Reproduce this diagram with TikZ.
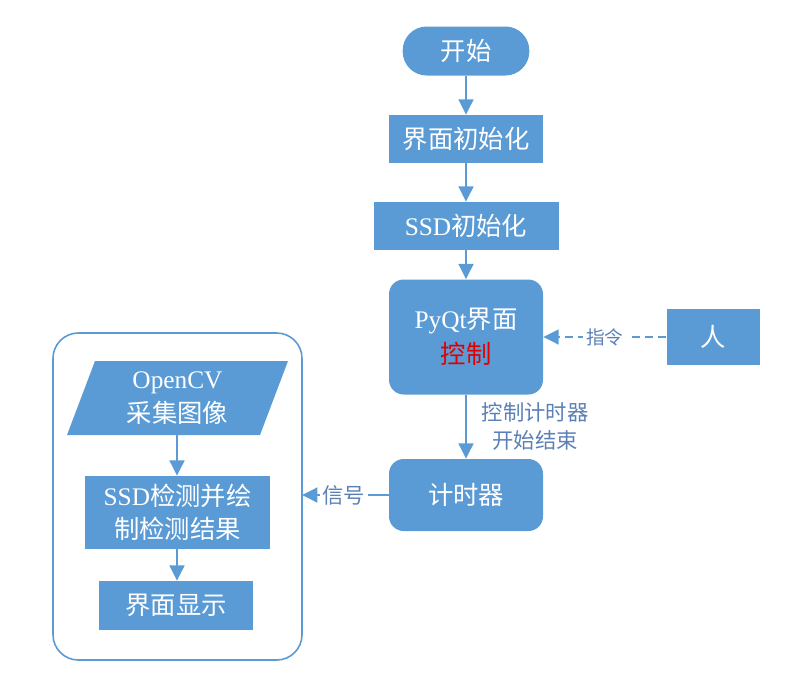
\documentclass[tikz,border=0pt]{standalone}
\usepackage{fontspec}
\setmainfont{Liberation Serif}
\newfontfamily\cjk{Noto Sans CJK SC}
\usetikzlibrary{arrows.meta}
\definecolor{boxblue}{HTML}{5B9BD5}
\definecolor{lblc}{HTML}{5B80B5}
\definecolor{redc}{HTML}{E00000}
\newcommand{\zh}[1]{{\cjk #1}}
\begin{document}
\begin{tikzpicture}[x=0.75pt,y=-0.75pt,
  box/.style={fill=boxblue, draw=none, text=white, font=\fontsize{19}{23}\selectfont, inner sep=0pt, align=center},
  rbox/.style={box, rounded corners=11pt},
  arr/.style={draw=boxblue, line width=1.9pt, -{Triangle[length=11.5pt,width=11pt]}},
  lbl/.style={text=lblc, font=\fontsize{16}{21}\selectfont, inner sep=1pt, align=center}]
\useasboundingbox (0,0) rectangle (798,686);

% main column
\node[box, rounded corners=18pt, minimum width=95pt, minimum height=36.75pt] (start) at (466,51) {\zh{开始}};
\node[box, minimum width=115.5pt, minimum height=36pt] (uiinit) at (466,139) {\zh{界面初始化}};
\node[box, minimum width=138.75pt, minimum height=36pt] (ssdinit) at (466,226) {SSD\zh{初始化}};
\node[rbox, minimum width=115.5pt, minimum height=86.25pt] (pyqt) at (466,337) {PyQt\zh{界面}\\[3pt]\textcolor{redc}{\zh{控制}}};
\node[box, minimum width=69.75pt, minimum height=42pt] (person) at (713,337) {\zh{人}};
\node[rbox, minimum width=115.5pt, minimum height=54pt] (timer) at (466,495) {\zh{计时器}};

% container
\draw[draw=boxblue, line width=1.2pt, rounded corners=19pt] (53,333) rectangle (302,660);
\coordinate (contR) at (302,495);

% inner flow
\fill[boxblue] (95,361) -- (288,361) -- (260,435) -- (67,435) -- cycle;
\node[text=white, font=\fontsize{19}{23}\selectfont, align=center, inner sep=0pt, minimum width=145pt, minimum height=55.5pt] (cv) at (177.5,398) {OpenCV\\[2pt]\zh{采集图像}};
\node[box, minimum width=138.75pt, minimum height=54.75pt] (detect) at (177.5,512.5) {SSD\zh{检测并绘}\\[2pt]\zh{制检测结果}};
\node[box, minimum width=115.5pt, minimum height=36.75pt] (show) at (176,605.5) {\zh{界面显示}};

% connectors
\draw[arr] (start) -- (uiinit);
\draw[arr] (uiinit) -- (ssdinit);
\draw[arr] (ssdinit) -- (pyqt);
\draw[arr] (pyqt) -- (timer);
\node[lbl] (l1) at (535,426) {\zh{控制计时器}\\\zh{开始结束}};
\draw[arr, dashed, dash pattern=on 6pt off 4pt] (person) -- node[lbl, fill=white, inner sep=2pt, pos=0.5, font=\fontsize{14}{18}\selectfont] (l2) {\zh{指令}} (pyqt);
\draw[arr] (timer) -- node[lbl, fill=white, inner sep=2pt, pos=0.52] (l3) {\zh{信号}} (contR);
\draw[arr] (cv.south -| 177,0) -- (detect.north -| 177,0);
\draw[arr] (detect.south -| 177,0) -- (show.north -| 177,0);
\end{tikzpicture}
\end{document}
